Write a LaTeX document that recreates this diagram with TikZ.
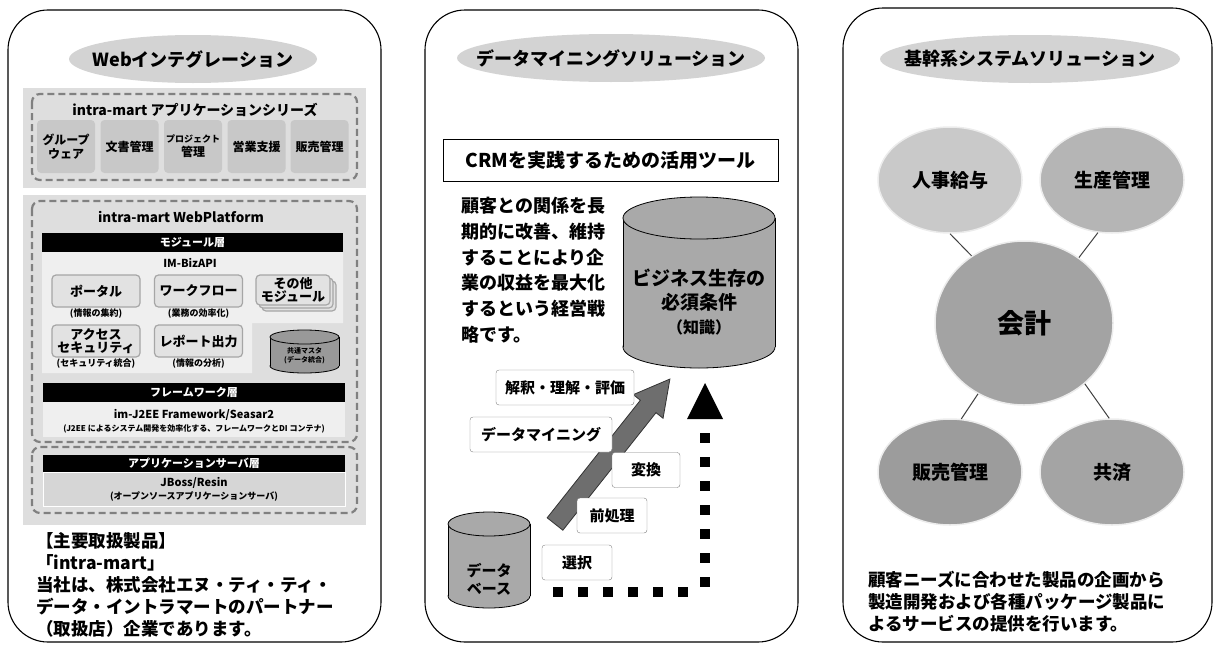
\documentclass[tikz,border=0pt]{standalone}
\usepackage{fontspec}
\setmainfont{Noto Sans CJK JP}
\usetikzlibrary{shapes.geometric,positioning,calc}

\definecolor{titlegray}{HTML}{D3D3D3}
\definecolor{bggray}{HTML}{DEDEDE}
\definecolor{boxgray}{HTML}{C8C8C8}
\definecolor{dashgray}{HTML}{808080}
\definecolor{paleg}{HTML}{EFEFEF}
\definecolor{modfill}{HTML}{E2E2E2}
\definecolor{modedge}{HTML}{A6A6A6}
\definecolor{asgray}{HTML}{D6D6D6}
\definecolor{drumgray}{HTML}{A9A9A9}
\definecolor{mastergray}{HTML}{999999}
\definecolor{arrowgray}{HTML}{6E6E6E}
\definecolor{orbA}{HTML}{C9C9C9}
\definecolor{orbB}{HTML}{B5B5B5}
\definecolor{orbC}{HTML}{A3A3A3}
\definecolor{orbD}{HTML}{9C9C9C}
\definecolor{orbE}{HTML}{A4A4A4}

% cylinder: centre x, x radius, top, bottom, y radius, fill
\newcommand{\drum}[6]{%
  \filldraw[fill=#6,draw=black,line width=0.8pt] (#1,#4-#5) ellipse [x radius=#2, y radius=#5];
  \fill[#6] (#1-#2,#3+#5) rectangle (#1+#2,#4-#5);
  \draw[line width=0.8pt] (#1-#2,#3+#5) -- (#1-#2,#4-#5) (#1+#2,#3+#5) -- (#1+#2,#4-#5);
  \filldraw[fill=#6,draw=black,line width=0.8pt] (#1,#3+#5) ellipse [x radius=#2, y radius=#5];
}

\newcommand{\fs}[2]{\fontsize{#1}{#2}\selectfont}

\begin{document}
\begin{tikzpicture}[x=1pt,y=-1pt,
    font=\bfseries,
    panel/.style={draw=black,line width=1.1pt,rounded corners=40pt},
    headline/.style={inner sep=0pt,font=\bfseries\fs{18}{20}},
    seriesdash/.style={draw=dashgray,line width=2.2pt,dash pattern=on 7pt off 4pt,rounded corners=8pt},
    appbox/.style={fill=boxgray,rounded corners=4pt,minimum width=58pt,minimum height=53pt,inner sep=1pt,align=center,font=\bfseries\fs{12}{14}},
    blackbar/.style={fill=black,text=white,minimum width=301pt,minimum height=19pt,inner sep=0pt,font=\bfseries\fs{11}{12}},
    modbox/.style={draw=modedge,fill=modfill,line width=1.2pt,rounded corners=4pt,minimum width=88pt,minimum height=32pt,inner sep=1pt,align=center,font=\bfseries\fs{13}{13}},
    note/.style={inner sep=1pt,font=\bfseries\fs{9}{10}},
    stagebox/.style={draw=gray,fill=white,rounded corners=3pt,minimum height=35pt,inner sep=1pt,font=\bfseries\fs{15}{16}},
    orb/.style={ellipse,draw=white!85!gray,line width=1.5pt,inner sep=0pt,minimum width=144pt,minimum height=106pt,font=\bfseries\fs{19}{20}},
    link/.style={draw=black!75,line width=1pt},
    bodytext/.style={anchor=north west,inner sep=0pt,align=left,font=\bfseries\fs{17.5}{22}}]

    \useasboundingbox (0,0) rectangle (1214,645);

    % three panels
    \draw[panel] (8,10) rectangle (381,642);
    \draw[panel] (425,10) rectangle (798,642);
    \draw[panel] (843,8) rectangle (1212,642);

    %%%%% Web integration
    \fill[titlegray] (193,59) ellipse [x radius=124, y radius=24];
    \node[headline] (webtitle) at (193,59) {Webインテグレーション};

    \fill[bggray] (23,88) rectangle (366,188);
    \draw[seriesdash] (32,94) rectangle (357,180);
    \node[font=\bfseries\fs{14}{16}] (series) at (195,110) {intra-mart アプリケーションシリーズ};
    \foreach \n/\x/\t in {gw/66/{グループ\\ウェア},doc/129.5/{文書管理},proj/193/{{\fs{9}{11}プロジェクト}\\管理},sales/256.5/{営業支援},shop/319.5/{販売管理}}{
        \node[appbox] (\n) at (\x,146.5) {\t};
    }

    \fill[bggray] (23,195) rectangle (366,525);
    \draw[seriesdash] (32,201) rectangle (357,442);
    \node[font=\bfseries\fs{13.5}{15}] (wptitle) at (181,217) {intra-mart WebPlatform};

    \node[blackbar] (modbar) at (192.5,242.5) {モジュール層};
    \fill[paleg] (42,252) -- (343,252) -- (343,323) -- (252,323) -- (252,373) -- (42,373) -- cycle;
    \node[font=\bfseries\fs{11}{12}] (bizapi) at (190,263) {IM-BizAPI};

    \node[modbox] (portal) at (96,291) {ポータル};
    \node[modbox] (flow) at (198.5,291) {ワークフロー};
    \node[modbox] (access) at (96,341) {アクセス\\セキュリティ};
    \node[modbox] (report) at (198.5,341) {レポート出力};
    \node[note,below=0pt of portal] (portalnote) {(情報の集約)};
    \node[note,below=0pt of flow] (flownote) {(業務の効率化)};
    \node[note,below=0pt of access] (accessnote) {(セキュリティ統合)};
    \node[note,below=0pt of report] (reportnote) {(情報の分析)};

    \foreach \d in {6,3}{
        \node[modbox,minimum width=74pt,minimum height=30pt] (other\d) at (293+\d,290+\d) {};
    }
    \node[modbox,minimum width=74pt,minimum height=30pt] (other) at (293,290) {その他\\モジュール};

    \drum{304.5}{34.5}{330}{373}{7}{mastergray}
    \node[align=center,inner sep=0pt,font=\bfseries\fs{7}{9}] (master) at (304.5,356) {共通マスタ\\(データ統合)};

    \node[blackbar,minimum width=302pt] (fwbar) at (194,392.5) {フレームワーク層};
    \fill[paleg] (43,402) rectangle (345,437);
    \node[font=\bfseries\fs{11}{12}] (fwname) at (194,415) {im-J2EE Framework/Seasar2};
    \node[font=\bfseries\fs{8}{9}] (fwnote) at (194,429) {(J2EE によるシステム開発を効率化する、フレームワークとDI コンテナ)};

    \draw[seriesdash] (32,447) rectangle (357,513);
    \node[blackbar,minimum width=302pt,minimum height=17pt] (asbar) at (194,463.5) {アプリケーションサーバ層};
    \filldraw[fill=asgray,draw=white] (43,472) rectangle (345,506);
    \node[font=\bfseries\fs{11}{12}] (asname) at (194,483) {JBoss/Resin};
    \node[font=\bfseries\fs{9}{10}] (asnote) at (194,497) {(オープンソースアプリケーションサーバ)};

    \node[bodytext] (products) at (36,532) {【主要取扱製品】\\「intra-mart」\\当社は、株式会社エヌ・ティ・ティ・\\データ・イントラマートのパートナー\\（取扱店）企業であります。};

    %%%%% data mining
    \fill[titlegray] (611,58) ellipse [x radius=154, y radius=24];
    \node[headline] (dmtitle) at (611,58) {データマイニングソリューション};
    \node[draw,line width=0.8pt,minimum width=335pt,minimum height=42pt,font=\bfseries\fs{19}{20}] (crm) at (610.5,160.5) {CRMを実践するための活用ツール};
    \node[bodytext,font=\bfseries\fs{18}{25.8}] (crmtext) at (461,197) {顧客との関係を長\\期的に改善、維持\\することにより企\\業の収益を最大化\\するという経営戦\\略です。};

    \drum{699}{76}{197}{368}{21}{drumgray}
    \node[align=center,inner sep=0pt,font=\bfseries\fs{19}{24}] (know) at (699,302) {ビジネス生存の\\必須条件\\{\fs{16}{18}（知識）}};

    % rising arrow
    \begin{scope}[shift={(555,524)},rotate=51.6]
        \filldraw[fill=arrowgray,draw=black!80,line width=0.8pt]
            (0pt,-10pt) -- (150pt,-10pt) -- (150pt,-19pt) -- (185pt,0pt)
            -- (150pt,19pt) -- (150pt,10pt) -- (0pt,10pt) -- cycle;
    \end{scope}

    \node[stagebox,minimum width=138pt] (interp) at (565,387.5) {解釈・理解・評価};
    \node[stagebox,minimum width=142pt] (mining) at (541,434.5) {データマイニング};
    \node[stagebox,minimum width=68pt] (trans) at (646,470) {変換};
    \node[stagebox,minimum width=70pt] (prep) at (612,515.5) {前処理};
    \node[stagebox,minimum width=70pt] (select) at (577,562.5) {選択};

    \drum{489}{41}{512}{608}{12}{drumgray}
    \node[align=center,inner sep=0pt,font=\bfseries\fs{15}{18}] (db) at (489,579) {データ\\ベース};

    % dotted path up to the knowledge
    \foreach \x in {558,583,...,683}{
        \fill (\x-5,587) rectangle (\x+5,597);
    }
    \foreach \y in {438,462,...,582}{
        \fill (700,\y-5) rectangle (710,\y+5);
    }
    \fill (705,383) -- (723,419) -- (687,419) -- cycle;

    %%%%% core systems
    \fill[titlegray] (1030,59) ellipse [x radius=150, y radius=24];
    \node[headline] (coretitle) at (1030,59) {基幹系システムソリューション};

    \node[orb,fill=orbA] (jinji) at (950,180) {人事給与};
    \node[orb,fill=orbB] (seisan) at (1112,180) {生産管理};
    \node[orb,fill=orbC,minimum width=178pt,minimum height=164pt,font=\bfseries\fs{27}{28}] (kaikei) at (1024,323) {会計};
    \node[orb,fill=orbD] (hanbai) at (950,472) {販売管理};
    \node[orb,fill=orbE] (kyosai) at (1112,472) {共済};

    \draw[link] (jinji.-90) -- (kaikei.128);
    \draw[link] (seisan.-105) -- (kaikei.50);
    \draw[link] (hanbai.78) -- (kaikei.-123);
    \draw[link] (kyosai.93) -- (kaikei.-45);

    \node[bodytext] (coretext) at (868,571) {顧客ニーズに合わせた製品の企画から\\製造開発および各種パッケージ製品に\\よるサービスの提供を行います。};

\end{tikzpicture}
\end{document}
